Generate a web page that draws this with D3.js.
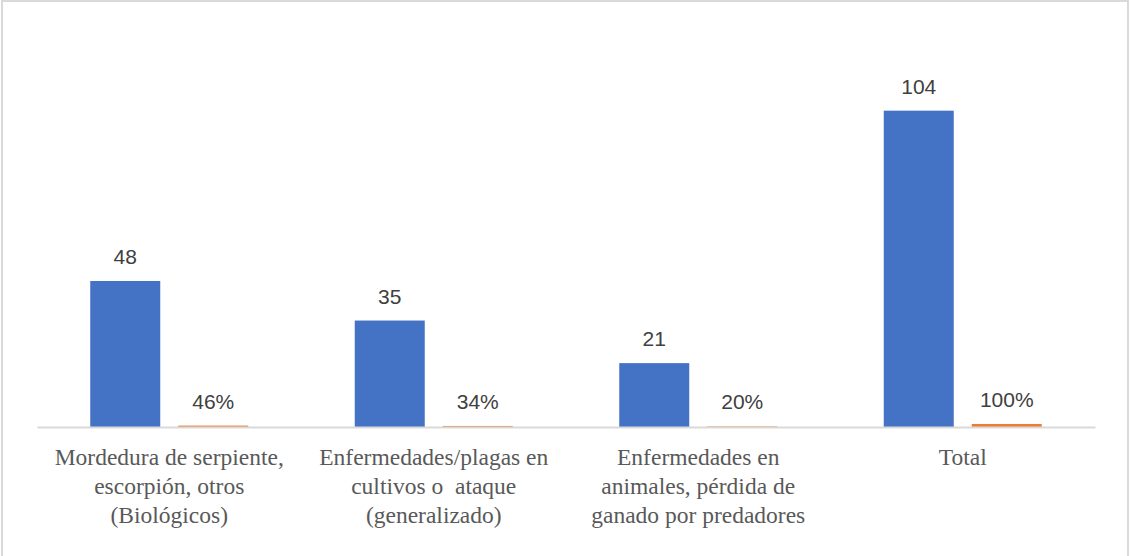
<!DOCTYPE html>
<html>
<head>
<meta charset="utf-8">
<script src="https://cdn.jsdelivr.net/npm/d3@7"></script>
<style>
  html, body { margin: 0; padding: 0; background: #fff; }
  svg { display: block; }
</style>
</head>
<body>
<svg id="chart" width="1130" height="556"></svg>
<script>
// Categories (each label split into display lines)
const categories = [
  ["Mordedura de serpiente,", "escorpión, otros", "(Biológicos)"],
  ["Enfermedades/plagas en", "cultivos o  ataque", "(generalizado)"],
  ["Enfermedades en", "animales, pérdida de", "ganado por predadores"],
  ["Total"]
];
// Number of cases per category
const casos = [48, 35, 21, 104];
// Share of the total, as a fraction
const porcentaje = [0.46, 0.34, 0.20, 1.00];
const porcentajeLabels = ["46%", "34%", "20%", "100%"];

const W = 1130, H = 556;
const svg = d3.select("#chart");

// Outer chart frame
svg.append("rect")
  .attr("x", 2).attr("y", 1)
  .attr("width", W - 4).attr("height", H + 10)
  .attr("fill", "#fff")
  .attr("stroke", "#d9d9d9")
  .attr("stroke-width", 2);

const plot = { left: 37, right: 1095, top: 62, bottom: 427 };

const x = d3.scaleBand()
  .domain(d3.range(categories.length))
  .range([plot.left, plot.right])
  .paddingInner(0).paddingOuter(0);

const y = d3.scaleLinear()
  .domain([0, 120])
  .range([plot.bottom, plot.top]);

const barW = 70, gap = 18;
const center = i => x(i) + x.bandwidth() / 2;

// Count bars
svg.append("g").selectAll("rect")
  .data(casos)
  .join("rect")
  .attr("x", (d, i) => center(i) - gap / 2 - barW)
  .attr("y", d => y(d))
  .attr("width", barW)
  .attr("height", d => y(0) - y(d))
  .attr("fill", "#4472C4");

// Percentage bars (same axis, so they stay very short)
svg.append("g").selectAll("rect")
  .data(porcentaje)
  .join("rect")
  .attr("x", (d, i) => center(i) + gap / 2)
  .attr("y", d => y(d))
  .attr("width", barW)
  .attr("height", d => y(0) - y(d))
  .attr("fill", "#ED7D31");

// Category axis
const axis = d3.axisBottom(x).tickSize(0).tickFormat("");
const gAxis = svg.append("g")
  .attr("transform", `translate(0,${plot.bottom})`)
  .call(axis);
gAxis.select(".domain").attr("stroke", "#d9d9d9").attr("stroke-width", 2);

// Category labels
const labelFont = "'Liberation Serif', 'Times New Roman', serif";
const lab = svg.append("g").selectAll("text")
  .data(categories)
  .join("text")
  .attr("x", (d, i) => center(i))
  .attr("y", 465)
  .attr("text-anchor", "middle")
  .attr("font-family", labelFont)
  .attr("font-size", 23.5)
  .attr("fill", "#595959");
lab.selectAll("tspan")
  .data(d => d)
  .join("tspan")
  .attr("x", function () { return d3.select(this.parentNode).attr("x"); })
  .attr("dy", (d, j) => j === 0 ? 0 : 29)
  .style("white-space", "pre")
  .attr("xml:space", "preserve")
  .text(d => d);

// Value labels
const valFont = "'Liberation Sans', Arial, sans-serif";
svg.append("g").selectAll("text")
  .data(casos)
  .join("text")
  .attr("x", (d, i) => center(i) - gap / 2 - barW / 2)
  .attr("y", d => y(d) - 17)
  .attr("text-anchor", "middle")
  .attr("font-family", valFont)
  .attr("font-size", 21)
  .attr("fill", "#404040")
  .text(d => d);

svg.append("g").selectAll("text")
  .data(porcentaje)
  .join("text")
  .attr("x", (d, i) => center(i) + gap / 2 + barW / 2)
  .attr("y", d => y(d) - 17)
  .attr("text-anchor", "middle")
  .attr("font-family", valFont)
  .attr("font-size", 21)
  .attr("fill", "#404040")
  .text((d, i) => porcentajeLabels[i]);
</script>
</body>
</html>
